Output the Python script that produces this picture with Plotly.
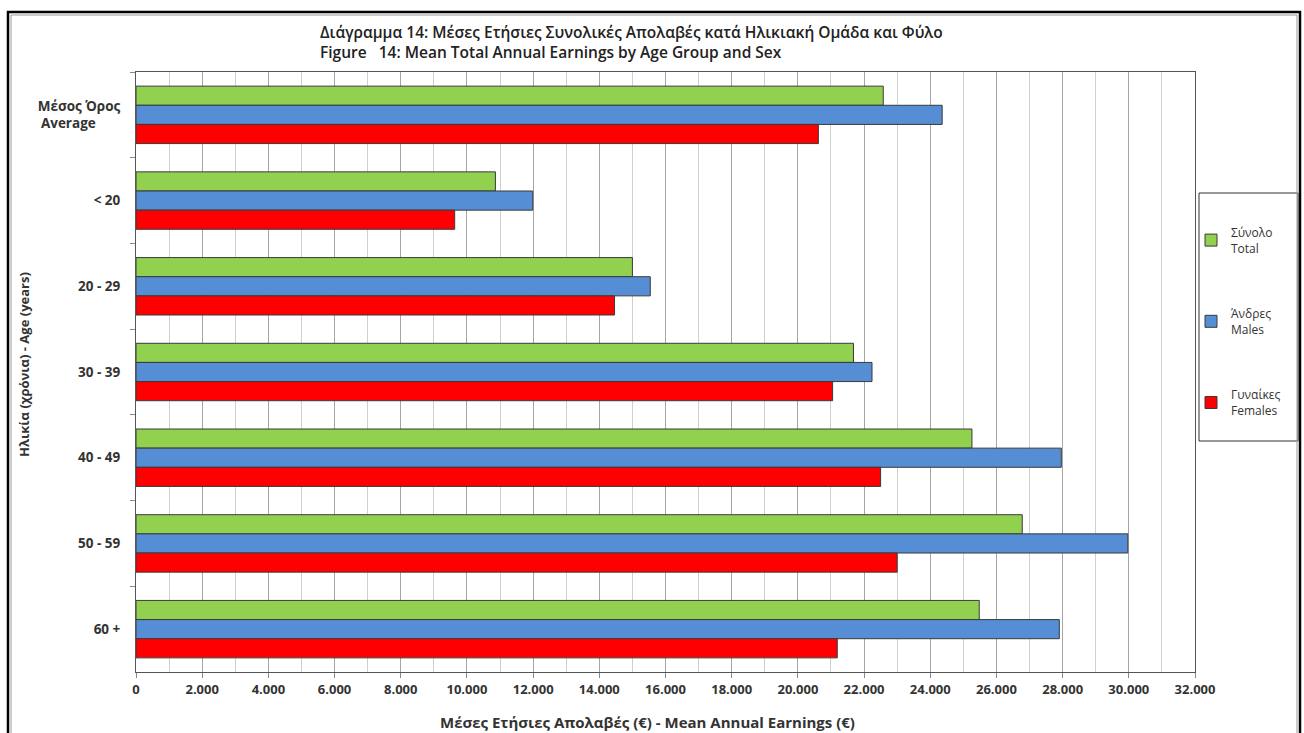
import plotly.graph_objects as go

categories = ["Μέσος Όρος<br>Average\u00a0\u00a0\u00a0\u00a0\u00a0\u00a0\u00a0", "< 20", "20 - 29", "30 - 39", "40 - 49", "50 - 59", "60 +"]
total = [22580, 10860, 15000, 21680, 25260, 26780, 25480]
males = [24360, 11990, 15540, 22240, 27960, 29970, 27900]
females = [20620, 9630, 14460, 21050, 22500, 23000, 21190]
series_names = ["Σύνολο<br>Total", "Άνδρες<br>Males", "Γυναίκες<br>Females"]
colors = ["#92D050", "#558ED5", "#FF0000"]

W, H = 1304, 733
L, R, T, B = 136, 1195, 72, 672
pw, ph = R - L, B - T


def px(x):
    return (x - L) / pw


def py(y):
    return (B - y) / ph


fig = go.Figure()
for i, (name, vals) in enumerate(zip(series_names, [total, males, females])):
    fig.add_trace(go.Bar(
        y=categories, x=vals, orientation="h", name=name,
        marker=dict(color=colors[i], line=dict(color="#3a3a3a", width=1)),
        legendgroup=f"g{i}",
    ))

font_main = "Open Sans"
title_font = dict(size=15.5, color="#222222", family="Open Sans", weight=600)
title_text = ("Διάγραμμα 14: Μέσες Ετήσιες Συνολικές Απολαβές κατά Ηλικιακή Ομάδα και Φύλο<br>"
              "Figure\u00a0\u00a0\u00a014: Mean Total Annual Earnings by Age Group and Sex")
fig.update_layout(
    width=W, height=H,
    margin=dict(l=L, r=W - R, t=T, b=H - B),
    paper_bgcolor="white", plot_bgcolor="white",
    barmode="group", bargap=0.33, bargroupgap=0,
    separators=",.",
    font=dict(family=font_main, color="#333333"),
    showlegend=True,
    legend=dict(x=px(1191), y=py(218), xanchor="left", yanchor="top",
                bgcolor="rgba(0,0,0,0)", borderwidth=0,
                tracegroupgap=47, itemwidth=30,
                font=dict(size=12, color="#333333", family=font_main)),
    xaxis=dict(range=[0, 32000], dtick=2000, tick0=0, tickformat=",d",
               showgrid=True, gridcolor="#A6A6A6", gridwidth=1,
               minor=dict(dtick=1000, showgrid=True, gridcolor="#CFCFCF", gridwidth=1),
               showline=True, linecolor="#555555", linewidth=1, mirror=True,
               ticks="outside", ticklen=5, tickcolor="#888888",
               tickfont=dict(size=13, color="#333333", family="Open Sans", weight="bold"),
               zeroline=False, fixedrange=True),
    yaxis=dict(autorange="reversed", showgrid=False,
               showline=True, linecolor="#555555", linewidth=1, mirror=True,
               ticks="outside", ticklen=5, tickcolor="#888888", tickson="boundaries",
               ticklabelstandoff=12,
               tickfont=dict(size=13.5, color="#333333", family="Open Sans", weight="bold"),
               fixedrange=True),
    shapes=[
        dict(type="rect", xref="paper", yref="paper",
             x0=px(8), x1=px(1300), y0=py(12), y1=py(745),
             line=dict(color="black", width=2.5)),
        dict(type="rect", xref="paper", yref="paper",
             x0=px(11), x1=px(1297), y0=py(15), y1=py(745),
             line=dict(color="#9a9a9a", width=1)),
        dict(type="rect", xref="paper", yref="paper",
             x0=px(1199), x1=px(1298), y0=py(193), y1=py(441),
             line=dict(color="#333333", width=1), layer="below"),
    ],
    annotations=[
        dict(text=title_text, align="left",
             xref="paper", yref="paper", x=px(318), y=py(42), xanchor="left", yanchor="middle",
             showarrow=False, font=title_font),
        dict(text="<b>Μέσες Ετήσιες Απολαβές (€) - Mean Annual Earnings (€)</b>",
             xref="paper", yref="paper", x=px(647), y=py(722), xanchor="center", yanchor="middle",
             showarrow=False, font=dict(size=15, color="#333333")),
        dict(text="<b>Ηλικία (χρόνια) - Age (years)</b>",
             xref="paper", yref="paper", x=px(24), y=py(365), xanchor="center", yanchor="middle",
             textangle=-90, showarrow=False, font=dict(size=13, color="#333333")),
    ],
)

fig.write_html("out.html", config={"displayModeBar": False},
               post_script="document.body.style.margin='0px';document.body.style.overflow='hidden';")
